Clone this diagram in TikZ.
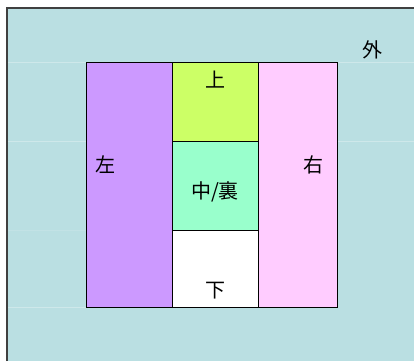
\documentclass[tikz,border=0pt]{standalone}
\usepackage{fontspec}
\newfontfamily\jpfont{Noto Sans CJK JP}
\usepackage{xcolor}
\usetikzlibrary{positioning}
\definecolor{outerblue}{RGB}{186,223,226}
\definecolor{leftpurple}{RGB}{204,153,255}
\definecolor{topgreen}{RGB}{204,255,102}
\definecolor{midgreen}{RGB}{153,255,204}
\definecolor{rightpink}{RGB}{255,204,255}

\begin{document}
\begin{tikzpicture}[x=1pt, y=-1pt, node distance=0pt, thick]
    % Styles
    \tikzstyle{zone} = [rectangle, draw, inner sep=0pt, outer sep=0pt, minimum width=86pt]
    \tikzstyle{tag} = [font=\jpfont\fontsize{20}{22}\selectfont, inner sep=0pt]
    \tikzstyle{faint} = [draw=white, opacity=0.3, line width=0.6pt]

    \useasboundingbox (0,0) rectangle (414,361);

    % Outside
    \fill [outerblue] (7,8) rectangle (414,361);
    \draw [faint] (8,62) -- (414,62);
    \draw [faint] (8,141) -- (414,141);
    \draw [faint, opacity=0.12] (8,230) -- (86,230);
    \draw [faint] (8,307) -- (86,307);
    \draw [line width=2pt, black!75] (7,361) -- (7,8) -- (414,8);

    % Zones
    \node [zone, fill=leftpurple, minimum height=245pt, anchor=north west] (left) at (86,62) {};
    \node [zone, fill=topgreen, minimum height=79pt, anchor=north west] (top) at (left.north east) {};
    \node [zone, fill=midgreen, minimum height=89pt, below=of top] (middle) {};
    \node [zone, fill=white, minimum height=77pt, below=of middle] (bottom) {};
    \node [zone, fill=rightpink, minimum width=79pt, minimum height=245pt, anchor=north west] (right) at (top.north east) {};

    % Labels
    \node [tag] (outside) at (372,50) {外};
    \node [tag] (up) at (215,80) {上};
    \node [tag] (leftside) at (105,165) {左};
    \node [tag] (rightside) at (313,165) {右};
    \node [tag] (centre) at (215,192) {中/裏};
    \node [tag] (down) at (215,291) {下};
\end{tikzpicture}
\end{document}
